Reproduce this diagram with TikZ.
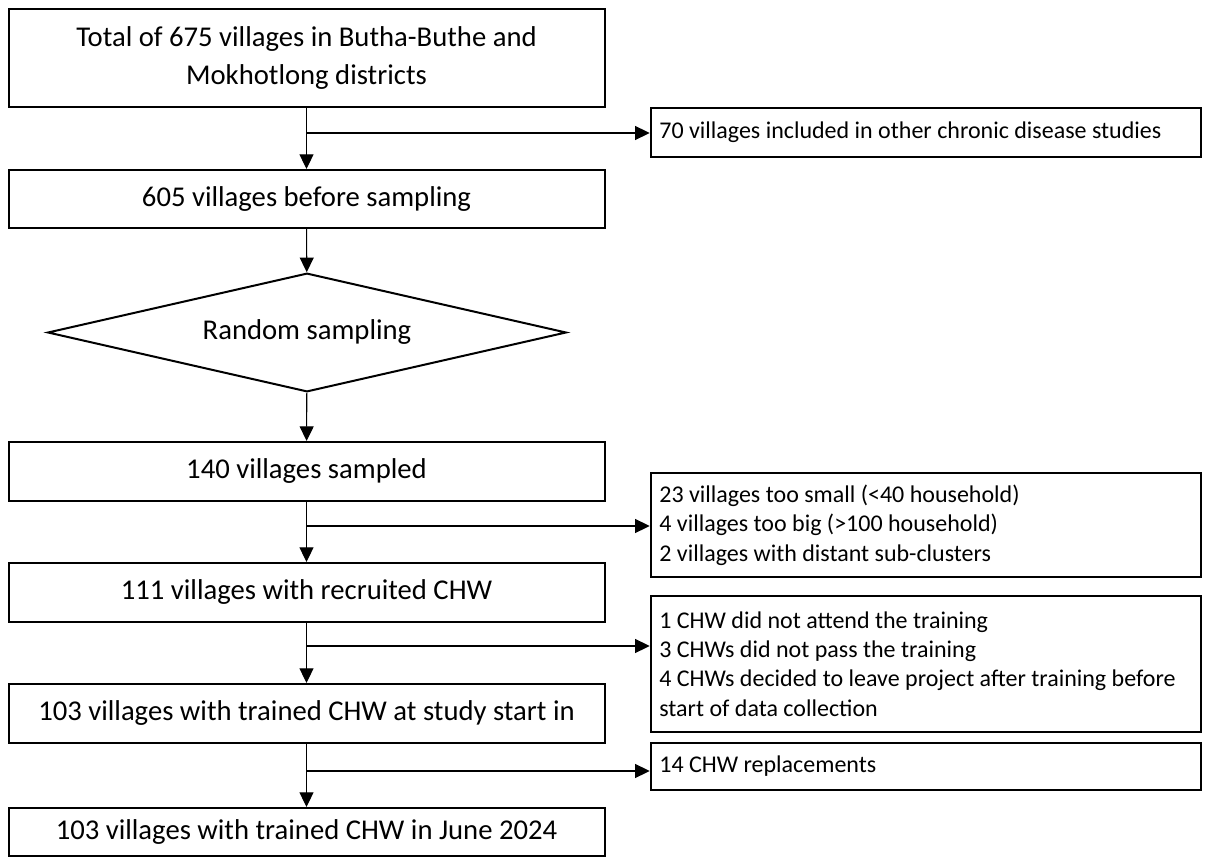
\documentclass[tikz,border=0pt]{standalone}
\usepackage{fontspec}
\setmainfont{Carlito}
\usepackage{tikz}
\usetikzlibrary{shapes.geometric,arrows.meta}

\begin{document}
\begin{tikzpicture}[x=0.75pt,y=-0.75pt,
  >={Triangle[length=11pt,width=10.5pt]},
  mainbox/.style={draw,rectangle,line width=1.5pt,minimum width=447pt,align=center,font=\fontsize{21.5}{29}\selectfont},
  sidebox/.style={draw,rectangle,line width=1.4pt,text width=400pt,inner xsep=6.5pt,align=flush left,font=\fontsize{18}{22}\selectfont},
  decision/.style={draw,diamond,line width=1.5pt,minimum width=389pt,minimum height=89pt,shape aspect=4.36,font=\fontsize{21.5}{29}\selectfont},
  flow/.style={line width=0.8pt}]
\useasboundingbox (0,0) rectangle (1211,863);

\node[mainbox,minimum height=73.5pt] (total) at (306.5,58) {Total of 675 villages in Butha-Buthe and\\Mokhotlong districts};
\node[mainbox,minimum height=43.5pt] (before) at (306.5,199) {605 villages before sampling};
\node[decision] (random) at (307,332.5) {Random sampling};
\node[mainbox,minimum height=44.25pt] (sampled) at (306.5,471.5) {140 villages sampled};
\node[mainbox,minimum height=44.25pt] (recruited) at (306.5,592.5) {111 villages with recruited CHW};
\node[mainbox,minimum height=44.25pt] (trained) at (306.5,713.5) {103 villages with trained CHW at study start in};
\node[mainbox,minimum height=36pt] (june) at (306.5,832) {103 villages with trained CHW in June 2024};

\node[sidebox,minimum height=36.75pt] (other) at (926,132.5) {70 villages included in other chronic disease studies};
\node[sidebox,minimum height=78pt] (size) at (926,525) {23 villages too small (<40 household)\\4 villages too big (>100 household)\\2 villages with distant sub-clusters};
\node[sidebox,minimum height=102pt] (notrained) at (926,664) {1 CHW did not attend the training\\3 CHWs did not pass the training\\4 CHWs decided to leave project after training before\\start of data collection};
\node[sidebox,minimum height=35.25pt] (repl) at (926,766.5) {14 CHW replacements};

\coordinate (b1) at (306.5,133);
\coordinate (b2) at (306.5,526);
\coordinate (b3) at (306.5,646);
\coordinate (b4) at (306.5,771);

\draw[flow,->] (total) -- (before);
\draw[flow,->] (before) -- (random);
\draw[flow,->] (random) -- (sampled);
\draw[flow,->] (sampled) -- (recruited);
\draw[flow,->] (recruited) -- (trained);
\draw[flow,->] (trained) -- (june);

\draw[flow,->] (b1) -- (b1 -| other.west);
\draw[flow,->] (b2) -- (b2 -| size.west);
\draw[flow,->] (b3) -- (b3 -| notrained.west);
\draw[flow,->] (b4) -- (b4 -| repl.west);
\end{tikzpicture}
\end{document}
